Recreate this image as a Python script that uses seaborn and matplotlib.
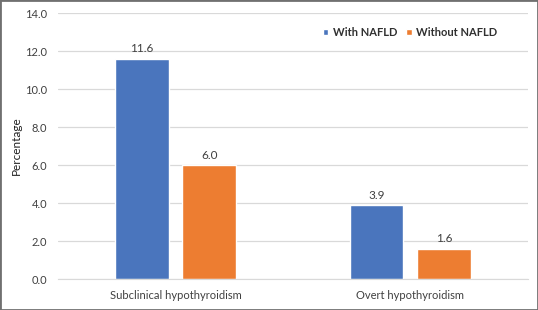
import matplotlib
matplotlib.use('Agg')
import matplotlib.pyplot as plt
import pandas as pd
import seaborn as sns
from matplotlib.patches import Rectangle

categories = ['Subclinical hypothyroidism', 'Overt hypothyroidism']
groups = ['With NAFLD', 'Without NAFLD']
with_nafld = [11.6, 3.9]
without_nafld = [6.0, 1.6]
colors = ['#4A75BD', '#ED7D31']

df = pd.DataFrame({
    'Category': categories * 2,
    'Group': [groups[0]] * 2 + [groups[1]] * 2,
    'Value': with_nafld + without_nafld,
})

sns.set_style('white')
plt.rcParams['font.family'] = ['Lato', 'DejaVu Sans']

fig = plt.figure(figsize=(5.38, 3.10), dpi=100)
ax = fig.add_axes([0.108, 0.1, 0.873, 0.858])

sns.barplot(data=df, x='Category', y='Value', hue='Group', palette=colors,
            width=0.574, gap=0.207, ax=ax, saturation=1)

for cont in ax.containers:
    ax.bar_label(cont, fmt='%.1f', padding=3, fontsize=8.5, color='#404040')

ax.set_ylim(0, 14)
ax.set_xlim(-0.5, 1.5)
ax.set_yticks(range(0, 15, 2))
ax.set_yticklabels([f'{v:.1f}' for v in range(0, 15, 2)])
ax.yaxis.grid(True, color='#D9D9D9', linewidth=0.9)
ax.set_axisbelow(True)
for s in ['top', 'right', 'left']:
    ax.spines[s].set_visible(False)
ax.spines['bottom'].set_color('#D9D9D9')
ax.tick_params(axis='both', length=0, labelsize=8, colors='#404040', pad=8)
ax.set_xlabel('')
ax.set_ylabel('Percentage', fontsize=8.5, color='#202020', labelpad=2)

leg = ax.legend(loc='upper right', bbox_to_anchor=(0.956, 0.985), ncol=2, frameon=False,
                handlelength=0.5, handleheight=0.5, handletextpad=0.4, columnspacing=0.8,
                prop={'weight': 'bold', 'size': 8})
for t in leg.get_texts():
    t.set_color('#303030')

fig.patches.append(Rectangle((0, 0), 1, 1, transform=fig.transFigure, fill=False,
                             edgecolor='#707070', linewidth=2))

fig.savefig('out.png', dpi=100)
